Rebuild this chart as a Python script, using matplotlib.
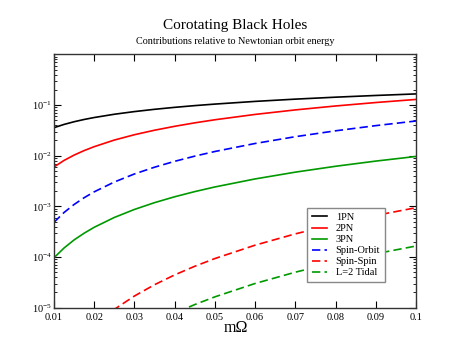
import matplotlib
matplotlib.use("Agg")
import matplotlib.pyplot as plt

plt.rcParams['font.family'] = ['Liberation Serif', 'DejaVu Serif']
plt.rcParams['mathtext.fontset'] = 'custom'
plt.rcParams['mathtext.rm'] = 'Liberation Serif'
plt.rcParams['mathtext.it'] = 'Liberation Serif:italic'

# values
m_omega = [0.01, 0.0125, 0.015, 0.0175, 0.02, 0.025, 0.03, 0.035, 0.04,
           0.045, 0.05, 0.06, 0.07, 0.08, 0.09, 0.1]
pn1 = [0.0358, 0.0415, 0.0469, 0.0520, 0.0568, 0.0659, 0.0744, 0.0825, 0.0902,
       0.0976, 0.1046, 0.1182, 0.1310, 0.1432, 0.1548, 0.1661]
pn2 = [0.00600, 0.00808, 0.0103, 0.01265, 0.0151, 0.0204, 0.0260, 0.0319, 0.0381,
       0.0446, 0.0513, 0.0654, 0.0803, 0.0960, 0.1123, 0.1292]
pn3 = [9.68e-5, 1.51e-4, 2.18e-4, 2.96e-4, 3.87e-4, 6.05e-4, 8.71e-4, 1.186e-3,
       1.549e-3, 1.960e-3, 2.42e-3, 3.485e-3, 4.743e-3, 6.195e-3, 7.841e-3, 9.68e-3]
spin_orbit = [4.85e-4, 7.58e-4, 1.091e-3, 1.485e-3, 1.94e-3, 3.03e-3, 4.37e-3, 5.94e-3,
              7.76e-3, 9.82e-3, 1.213e-2, 1.746e-2, 2.377e-2, 3.104e-2, 3.929e-2, 4.85e-2]
spin_spin = [4.37e-7, 9.2e-7, 1.69e-6, 2.82e-6, 4.41e-6, 9.27e-6, 1.703e-5, 2.847e-5,
             4.443e-5, 6.58e-5, 9.35e-5, 1.717e-4, 2.870e-4, 4.479e-4, 6.632e-4, 9.42e-4]
tidal = [7.7e-8, 1.61e-7, 2.96e-7, 4.95e-7, 7.73e-7, 1.626e-6, 2.99e-6, 4.99e-6,
         7.79e-6, 1.154e-5, 1.639e-5, 3.01e-5, 5.03e-5, 7.85e-5, 1.163e-4, 1.652e-4]

series = [
    ('1PN', pn1, 'black', '-'),
    ('2PN', pn2, 'red', '-'),
    ('3PN', pn3, '#009900', '-'),
    ('Spin-Orbit', spin_orbit, 'blue', '--'),
    ('Spin-Spin', spin_spin, 'red', '--'),
    ('L=2 Tidal', tidal, '#009900', '--'),
]

xticks = [0.01, 0.02, 0.03, 0.04, 0.05, 0.06, 0.07, 0.08, 0.09, 0.1]
xtick_labels = ['0.01', '0.02', '0.03', '0.04', '0.05', '0.06', '0.07', '0.08', '0.09', '0.1']
yticks = [1e-5, 1e-4, 1e-3, 1e-2, 1e-1]
ytick_labels = [r'$10^{-5}$', r'$10^{-4}$', r'$10^{-3}$', r'$10^{-2}$', r'$10^{-1}$']

fig = plt.figure(figsize=(4.71, 3.64), dpi=100)
ax = fig.add_axes([0.1146, 0.1546, 0.7686, 0.6959])

for label, vals, color, ls in series:
    if ls == '--':
        ax.plot(m_omega, vals, color=color, lw=1.2, ls=ls, dashes=(5, 2.5), label=label)
    else:
        ax.plot(m_omega, vals, color=color, lw=1.2, ls=ls, label=label)

ax.set_yscale('log')
ax.set_xlim(0.01, 0.1)
ax.set_ylim(1e-5, 1)
ax.set_xticks(xticks)
ax.set_xticklabels(xtick_labels, fontsize=7.5)
ax.set_yticks(yticks)
ax.set_yticklabels(ytick_labels, fontsize=7.5)
ax.tick_params(axis='both', which='both', direction='in', top=True, right=True)
ax.tick_params(axis='x', which='major', length=5, width=0.8, pad=3.5)
ax.tick_params(axis='x', which='minor', length=0)
ax.tick_params(axis='y', which='major', length=5, width=0.8, pad=1.5)
ax.tick_params(axis='y', which='minor', length=2.5, width=0.6)
for sp in ax.spines.values():
    sp.set_linewidth(1.0)
    sp.set_color('#333333')

leg = ax.legend(loc='lower left', bbox_to_anchor=(0.699, 0.101), fontsize=7.5,
                fancybox=False, framealpha=1, edgecolor='#888888',
                handlelength=1.5, handletextpad=0.8, labelspacing=0.17,
                borderpad=0.45, borderaxespad=0)
leg.get_frame().set_linewidth(1.0)

fig.text(0.5, 0.931, 'Corotating Black Holes', ha='center', va='center', fontsize=11)
fig.text(0.5, 0.885, 'Contributions relative to Newtonian orbit energy',
         ha='center', va='center', fontsize=7.3)
fig.text(0.5, 0.099, 'm\u03a9', ha='center', va='center', fontsize=11.5)

fig.savefig('out.png', dpi=100)
